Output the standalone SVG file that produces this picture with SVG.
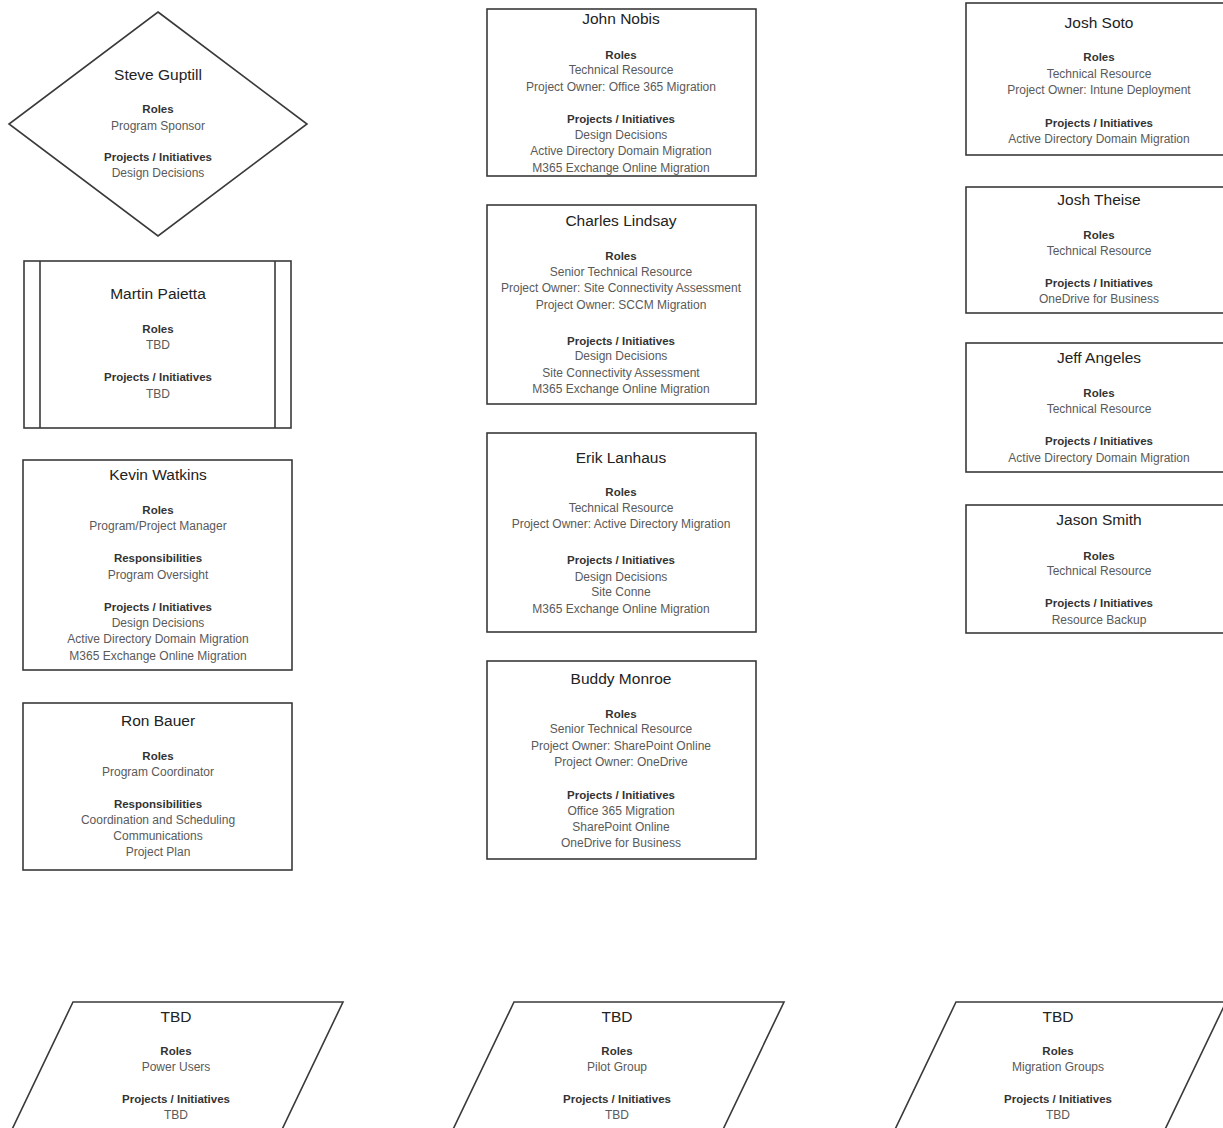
<svg xmlns="http://www.w3.org/2000/svg" width="1223" height="1128" viewBox="0 0 1223 1128">
<style>
.shape{fill:#fff;stroke:#3a3a3a;stroke-width:1.6}
.t{font-family:"Liberation Sans",Arial,sans-serif;text-anchor:middle}
.ti{font-size:15.5px;fill:#222}
.h{font-size:11.5px;font-weight:bold;fill:#333}
.b{font-size:12px;fill:#5a5a5a}
</style>
<rect width="1223" height="1128" fill="#fff"/>
<g id="connectors"></g>

<g id="steve-guptill">
<polygon class="shape" points="158,12 307,124 158,236 9,124"/>
<text class="t ti" x="158" y="80">Steve Guptill</text>
<text class="t h" x="158" y="113">Roles</text>
<text class="t b" x="158" y="130">Program Sponsor</text>
<text class="t h" x="158" y="161">Projects / Initiatives</text>
<text class="t b" x="158" y="177">Design Decisions</text>
</g>

<g id="martin-paietta">
<rect class="shape" x="24" y="261" width="267" height="167"/>
<line class="shape" x1="40" y1="261" x2="40" y2="428"/>
<line class="shape" x1="275" y1="261" x2="275" y2="428"/>
<text class="t ti" x="158" y="299">Martin Paietta</text>
<text class="t h" x="158" y="333">Roles</text>
<text class="t b" x="158" y="349">TBD</text>
<text class="t h" x="158" y="381">Projects / Initiatives</text>
<text class="t b" x="158" y="398">TBD</text>
</g>

<g id="kevin-watkins">
<rect class="shape" x="23" y="460" width="269" height="210"/>
<text class="t ti" x="158" y="480">Kevin Watkins</text>
<text class="t h" x="158" y="514">Roles</text>
<text class="t b" x="158" y="530">Program/Project Manager</text>
<text class="t h" x="158" y="562">Responsibilities</text>
<text class="t b" x="158" y="579">Program Oversight</text>
<text class="t h" x="158" y="611">Projects / Initiatives</text>
<text class="t b" x="158" y="627">Design Decisions</text>
<text class="t b" x="158" y="643">Active Directory Domain Migration</text>
<text class="t b" x="158" y="660">M365 Exchange Online Migration</text>
</g>

<g id="ron-bauer">
<rect class="shape" x="23" y="703" width="269" height="167"/>
<text class="t ti" x="158" y="726">Ron Bauer</text>
<text class="t h" x="158" y="760">Roles</text>
<text class="t b" x="158" y="776">Program Coordinator</text>
<text class="t h" x="158" y="808">Responsibilities</text>
<text class="t b" x="158" y="824">Coordination and Scheduling</text>
<text class="t b" x="158" y="840">Communications</text>
<text class="t b" x="158" y="856">Project Plan</text>
</g>

<g id="john-nobis">
<rect class="shape" x="487" y="9" width="269" height="167"/>
<text class="t ti" x="621" y="24">John Nobis</text>
<text class="t h" x="621" y="59">Roles</text>
<text class="t b" x="621" y="74">Technical Resource</text>
<text class="t b" x="621" y="91">Project Owner: Office 365 Migration</text>
<text class="t h" x="621" y="123">Projects / Initiatives</text>
<text class="t b" x="621" y="139">Design Decisions</text>
<text class="t b" x="621" y="155">Active Directory Domain Migration</text>
<text class="t b" x="621" y="172">M365 Exchange Online Migration</text>
</g>

<g id="charles-lindsay">
<rect class="shape" x="487" y="205" width="269" height="199"/>
<text class="t ti" x="621" y="226">Charles Lindsay</text>
<text class="t h" x="621" y="260">Roles</text>
<text class="t b" x="621" y="276">Senior Technical Resource</text>
<text class="t b" x="621" y="292">Project Owner: Site Connectivity Assessment</text>
<text class="t b" x="621" y="309">Project Owner: SCCM Migration</text>
<text class="t h" x="621" y="345">Projects / Initiatives</text>
<text class="t b" x="621" y="360">Design Decisions</text>
<text class="t b" x="621" y="377">Site Connectivity Assessment</text>
<text class="t b" x="621" y="393">M365 Exchange Online Migration</text>
</g>

<g id="erik-lanhaus">
<rect class="shape" x="487" y="433" width="269" height="199"/>
<text class="t ti" x="621" y="463">Erik Lanhaus</text>
<text class="t h" x="621" y="496">Roles</text>
<text class="t b" x="621" y="512">Technical Resource</text>
<text class="t b" x="621" y="528">Project Owner: Active Directory Migration</text>
<text class="t h" x="621" y="564">Projects / Initiatives</text>
<text class="t b" x="621" y="581">Design Decisions</text>
<text class="t b" x="621" y="596">Site Conne</text>
<text class="t b" x="621" y="613">M365 Exchange Online Migration</text>
</g>

<g id="buddy-monroe">
<rect class="shape" x="487" y="661" width="269" height="198"/>
<text class="t ti" x="621" y="684">Buddy Monroe</text>
<text class="t h" x="621" y="718">Roles</text>
<text class="t b" x="621" y="733">Senior Technical Resource</text>
<text class="t b" x="621" y="750">Project Owner: SharePoint Online</text>
<text class="t b" x="621" y="766">Project Owner: OneDrive</text>
<text class="t h" x="621" y="799">Projects / Initiatives</text>
<text class="t b" x="621" y="815">Office 365 Migration</text>
<text class="t b" x="621" y="831">SharePoint Online</text>
<text class="t b" x="621" y="847">OneDrive for Business</text>
</g>

<g id="josh-soto">
<rect class="shape" x="966" y="3" width="262" height="152"/>
<text class="t ti" x="1099" y="28">Josh Soto</text>
<text class="t h" x="1099" y="61">Roles</text>
<text class="t b" x="1099" y="78">Technical Resource</text>
<text class="t b" x="1099" y="94">Project Owner: Intune Deployment</text>
<text class="t h" x="1099" y="127">Projects / Initiatives</text>
<text class="t b" x="1099" y="143">Active Directory Domain Migration</text>
</g>

<g id="josh-theise">
<rect class="shape" x="966" y="187" width="262" height="126"/>
<text class="t ti" x="1099" y="205">Josh Theise</text>
<text class="t h" x="1099" y="239">Roles</text>
<text class="t b" x="1099" y="255">Technical Resource</text>
<text class="t h" x="1099" y="287">Projects / Initiatives</text>
<text class="t b" x="1099" y="303">OneDrive for Business</text>
</g>

<g id="jeff-angeles">
<rect class="shape" x="966" y="343" width="262" height="129"/>
<text class="t ti" x="1099" y="363">Jeff Angeles</text>
<text class="t h" x="1099" y="397">Roles</text>
<text class="t b" x="1099" y="413">Technical Resource</text>
<text class="t h" x="1099" y="445">Projects / Initiatives</text>
<text class="t b" x="1099" y="462">Active Directory Domain Migration</text>
</g>

<g id="jason-smith">
<rect class="shape" x="966" y="505" width="262" height="128"/>
<text class="t ti" x="1099" y="525">Jason Smith</text>
<text class="t h" x="1099" y="560">Roles</text>
<text class="t b" x="1099" y="575">Technical Resource</text>
<text class="t h" x="1099" y="607">Projects / Initiatives</text>
<text class="t b" x="1099" y="624">Resource Backup</text>
</g>

<g id="tbd-power-users">
<polygon class="shape" points="73,1002 343,1002 276,1142 6,1142"/>
<text class="t ti" x="176" y="1022">TBD</text>
<text class="t h" x="176" y="1055">Roles</text>
<text class="t b" x="176" y="1071">Power Users</text>
<text class="t h" x="176" y="1103">Projects / Initiatives</text>
<text class="t b" x="176" y="1119">TBD</text>
</g>

<g id="tbd-pilot-group">
<polygon class="shape" points="514,1002 784,1002 717,1142 447,1142"/>
<text class="t ti" x="617" y="1022">TBD</text>
<text class="t h" x="617" y="1055">Roles</text>
<text class="t b" x="617" y="1071">Pilot Group</text>
<text class="t h" x="617" y="1103">Projects / Initiatives</text>
<text class="t b" x="617" y="1119">TBD</text>
</g>

<g id="tbd-migration-groups">
<polygon class="shape" points="956,1002 1226,1002 1159,1142 889,1142"/>
<text class="t ti" x="1058" y="1022">TBD</text>
<text class="t h" x="1058" y="1055">Roles</text>
<text class="t b" x="1058" y="1071">Migration Groups</text>
<text class="t h" x="1058" y="1103">Projects / Initiatives</text>
<text class="t b" x="1058" y="1119">TBD</text>
</g>
</svg>
